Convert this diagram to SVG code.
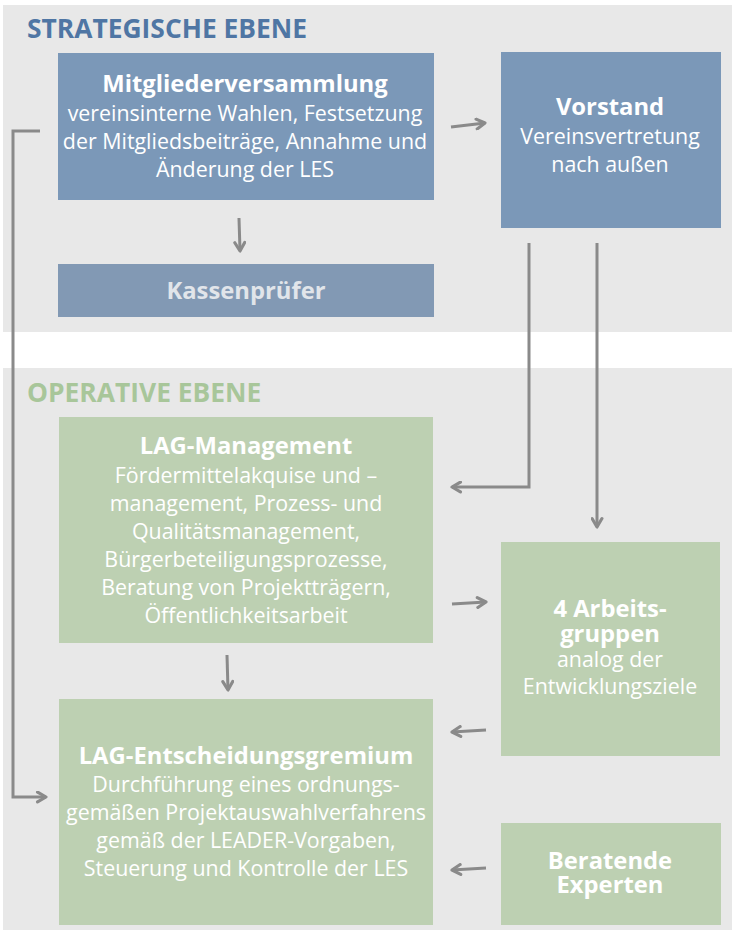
<svg xmlns="http://www.w3.org/2000/svg" width="735" height="931" viewBox="0 0 735 931">
<defs>
<marker id="ah" viewBox="0 0 10 10" refX="8.5" refY="5" markerWidth="13" markerHeight="13" markerUnits="userSpaceOnUse" orient="auto">
<path d="M2,1.2 L8.5,5 L2,8.8" fill="none" stroke="#8a8a8a" stroke-width="2.4" stroke-linecap="round" stroke-linejoin="round"/>
</marker>
<style>
.panel{fill:#e8e8e8}
.blue{fill:#7b98b8}
.kasse{fill:#8299b4}
.green{fill:#bdd0b2}
.t{font-family:"Open Sans","Liberation Sans",sans-serif;fill:#ffffff;text-anchor:middle}
.h{font-weight:bold;font-size:23.8px}
.b{font-size:21.4px}
.lvl{font-family:"Open Sans","Liberation Sans",sans-serif;font-weight:bold;font-size:26.4px}
.c{fill:none;stroke:#8a8a8a;stroke-width:3}
</style>
</defs>
<rect width="735" height="931" fill="#ffffff"/>
<rect class="panel" x="3" y="5" width="729" height="327"/>
<rect class="panel" x="3" y="368" width="729" height="562"/>
<text class="lvl" x="27" y="38" fill="#4f76a4">STRATEGISCHE EBENE</text>
<text class="lvl" x="27" y="402" fill="#a8c69a">OPERATIVE EBENE</text>

<g id="connectors">
<path class="c" d="M40,131 L13,131 L13,797 L46,797" marker-end="url(#ah)"/>
<path class="c" d="M451,127 L485,123" marker-end="url(#ah)"/>
<path class="c" d="M239,218 L240,251" marker-end="url(#ah)"/>
<path class="c" d="M529,243 L529,487 L452,487" marker-end="url(#ah)"/>
<path class="c" d="M597,243 L597,527" marker-end="url(#ah)"/>
<path class="c" d="M452,604 L486,602" marker-end="url(#ah)"/>
<path class="c" d="M227,655 L228,690" marker-end="url(#ah)"/>
<path class="c" d="M486,730 L452,732" marker-end="url(#ah)"/>
<path class="c" d="M486,868 L452,870" marker-end="url(#ah)"/>
</g>

<g id="mitgliederversammlung">
<rect class="blue" x="58" y="53" width="376" height="147"/>
<text class="t h" x="245" y="92">Mitgliederversammlung</text>
<text class="t b" x="245" y="121">vereinsinterne Wahlen, Festsetzung</text>
<text class="t b" x="245" y="149">der Mitgliedsbeiträge, Annahme und</text>
<text class="t b" x="245" y="177">Änderung der LES</text>
</g>

<g id="vorstand">
<rect class="blue" x="501" y="52" width="220" height="176"/>
<text class="t h" x="610" y="115">Vorstand</text>
<text class="t b" x="610" y="144">Vereinsvertretung</text>
<text class="t b" x="610" y="172">nach außen</text>
</g>

<g id="kassenpruefer">
<rect class="kasse" x="58" y="264" width="376" height="53"/>
<text class="t h" x="246" y="299" style="fill:#e1e5ea">Kassenprüfer</text>
</g>

<g id="lag-management">
<rect class="green" x="59" y="417" width="374" height="226"/>
<text class="t h" x="246" y="454">LAG-Management</text>
<text class="t b" x="246" y="483">Fördermittelakquise und –</text>
<text class="t b" x="246" y="511">management, Prozess- und</text>
<text class="t b" x="246" y="539">Qualitätsmanagement,</text>
<text class="t b" x="246" y="567">Bürgerbeteiligungsprozesse,</text>
<text class="t b" x="246" y="595">Beratung von Projektträgern,</text>
<text class="t b" x="246" y="623">Öffentlichkeitsarbeit</text>
</g>

<g id="arbeitsgruppen">
<rect class="green" x="501" y="542" width="219" height="214"/>
<text class="t h" x="610" y="617">4 Arbeits-</text>
<text class="t h" x="610" y="642">gruppen</text>
<text class="t b" x="610" y="667">analog der</text>
<text class="t b" x="610" y="694">Entwicklungsziele</text>
</g>

<g id="entscheidungsgremium">
<rect class="green" x="59" y="699" width="374" height="226"/>
<text class="t h" x="246" y="764">LAG-Entscheidungsgremium</text>
<text class="t b" x="246" y="792">Durchführung eines ordnungs-</text>
<text class="t b" x="246" y="820">gemäßen Projektauswahlverfahrens</text>
<text class="t b" x="246" y="848">gemäß der LEADER-Vorgaben,</text>
<text class="t b" x="246" y="876">Steuerung und Kontrolle der LES</text>
</g>

<g id="beratende-experten">
<rect class="green" x="501" y="823" width="220" height="102"/>
<text class="t h" x="610" y="869">Beratende</text>
<text class="t h" x="610" y="893">Experten</text>
</g>
</svg>
